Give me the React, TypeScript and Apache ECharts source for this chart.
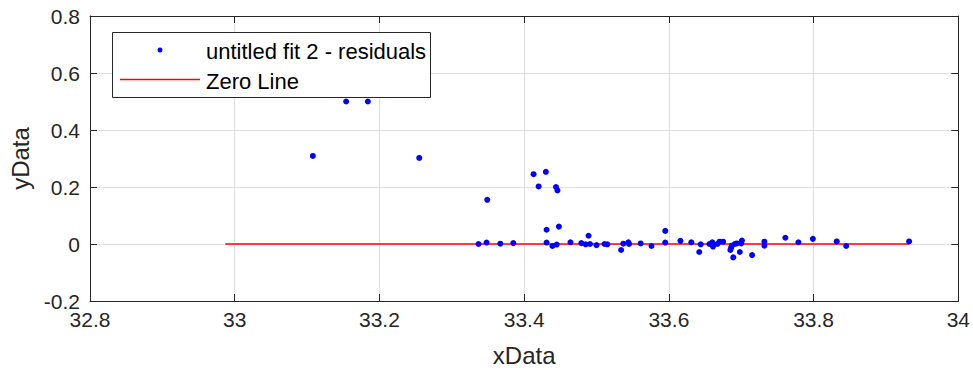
import React, { useEffect, useRef } from "react";
import * as echarts from "echarts";

const residualX = [
  33.108, 33.154, 33.184, 33.255, 33.337, 33.348, 33.349, 33.367, 33.385, 33.413,
  33.43, 33.42, 33.444, 33.446, 33.431, 33.448, 33.431, 33.439, 33.445, 33.464,
  33.479, 33.485, 33.489, 33.491, 33.5, 33.511, 33.515, 33.534, 33.537, 33.544,
  33.545, 33.561, 33.576, 33.595, 33.595, 33.616, 33.631, 33.642, 33.644, 33.656,
  33.66, 33.661, 33.667, 33.67, 33.675, 33.685, 33.686, 33.687, 33.689, 33.691,
  33.694, 33.698, 33.7, 33.701, 33.715, 33.732, 33.732, 33.761, 33.779, 33.799,
  33.832, 33.845, 33.932,
];
const residualY = [
  0.309, 0.5, 0.5, 0.302, 0.0, 0.005, 0.155, 0.001, 0.003, 0.245,
  0.253, 0.202, 0.2, 0.188, 0.05, 0.061, 0.005, -0.007, -0.002, 0.006,
  0.003, -0.001, 0.029, 0.0, -0.004, 0.0, -0.001, -0.021, 0.001, 0.006,
  0.0, 0.002, -0.007, 0.046, 0.005, 0.011, 0.006, -0.028, -0.001, 0.0,
  0.006, -0.009, 0.0, 0.008, 0.008, -0.021, -0.013, -0.006, -0.047, 0.0,
  0.002, -0.028, 0.002, 0.012, -0.039, 0.008, -0.006, 0.022, 0.006, 0.018,
  0.009, -0.007, 0.009,
];
const zeroLineX = [32.987, 33.932];
const zeroLineY = [0, 0];
const seriesNames = ["untitled fit 2 - residuals", "Zero Line"];
const axisTitles = { x: "xData", y: "yData" };

const FONT = "Liberation Sans, Arial, sans-serif";
const AX = "#262626";
const GRID = "#dfdfdf";
const TICK_FS = 21;
const TITLE_FS = 24;
const LEG_FS = 22;

export default function App() {
  const ref = useRef<HTMLDivElement>(null);
  useEffect(() => {
    if (!ref.current) return;
    const chart = echarts.init(ref.current, undefined, { renderer: "svg" });
    const xCommon = {
      type: "value" as const,
      min: 32.8,
      max: 34,
      interval: 0.2,
    };
    const yCommon = {
      type: "value" as const,
      min: -0.2,
      max: 0.8,
      interval: 0.2,
    };
    const fmt = (v: number) => String(Math.round(v * 10) / 10);
    chart.setOption({
      animation: false,
      backgroundColor: "#ffffff",
      grid: { left: 90, right: 12, top: 16, bottom: 77, containLabel: false },
      xAxis: [
        {
          ...xCommon,
          position: "bottom",
          name: axisTitles.x,
          nameLocation: "middle",
          nameGap: 42,
          nameTextStyle: { fontFamily: FONT, fontSize: TITLE_FS, color: AX },
          axisLine: { show: true, onZero: false, lineStyle: { color: AX, width: 1 } },
          axisTick: { show: true, inside: true, length: 7, lineStyle: { color: AX } },
          axisLabel: {
            fontFamily: FONT,
            fontSize: TICK_FS,
            color: AX,
            margin: 8,
            formatter: fmt,
          },
          splitLine: { show: true, lineStyle: { color: GRID, width: 1 } },
        },
        {
          ...xCommon,
          position: "top",
          axisLine: { show: true, onZero: false, lineStyle: { color: AX, width: 1 } },
          axisTick: { show: true, inside: true, length: 7, lineStyle: { color: AX } },
          axisLabel: { show: false },
          splitLine: { show: false },
        },
      ],
      yAxis: [
        {
          ...yCommon,
          position: "left",
          name: axisTitles.y,
          nameLocation: "middle",
          nameGap: 52,
          nameTextStyle: { fontFamily: FONT, fontSize: TITLE_FS, color: AX },
          axisLine: { show: true, onZero: false, lineStyle: { color: AX, width: 1 } },
          axisTick: { show: true, inside: true, length: 7, lineStyle: { color: AX } },
          axisLabel: {
            fontFamily: FONT,
            fontSize: TICK_FS,
            color: AX,
            margin: 10,
            formatter: fmt,
          },
          splitLine: { show: true, lineStyle: { color: GRID, width: 1 } },
        },
        {
          ...yCommon,
          position: "right",
          axisLine: { show: true, onZero: false, lineStyle: { color: AX, width: 1 } },
          axisTick: { show: true, inside: true, length: 7, lineStyle: { color: AX } },
          axisLabel: { show: false },
          splitLine: { show: false },
        },
      ],
      series: [
        {
          name: seriesNames[1],
          type: "line",
          data: zeroLineX.map((x, i) => [x, zeroLineY[i]]),
          showSymbol: false,
          lineStyle: { color: "#ff0000", width: 1.3 },
          z: 2,
        },
        {
          name: seriesNames[0],
          type: "scatter",
          data: residualX.map((x, i) => [x, residualY[i]]),
          symbol: "circle",
          symbolSize: 6,
          itemStyle: { color: "#0000ff", opacity: 1 },
          z: 3,
        },
      ],
      graphic: [
        {
          type: "rect",
          shape: { x: 112.5, y: 32.5, width: 318, height: 65 },
          style: { fill: "#ffffff", stroke: AX, lineWidth: 1 },
          z: 100,
        },
        {
          type: "circle",
          shape: { cx: 160, cy: 50, r: 2.5 },
          style: { fill: "#0000ff" },
          z: 101,
        },
        {
          type: "line",
          shape: { x1: 120, y1: 79.5, x2: 200, y2: 79.5 },
          style: { stroke: "#ff0000", lineWidth: 1.3 },
          z: 101,
        },
        {
          type: "text",
          x: 206,
          y: 51,
          style: {
            text: seriesNames[0],
            fontFamily: FONT,
            fontSize: LEG_FS,
            fill: "#000000",
            verticalAlign: "middle",
          },
          z: 101,
        },
        {
          type: "text",
          x: 206,
          y: 81,
          style: {
            text: seriesNames[1],
            fontFamily: FONT,
            fontSize: LEG_FS,
            fill: "#000000",
            verticalAlign: "middle",
          },
          z: 101,
        },
      ],
    });
    return () => chart.dispose();
  }, []);
  return (
    <div
      ref={ref}
      style={{ position: "fixed", left: 0, top: 0, width: 973, height: 378 }}
    />
  );
}
